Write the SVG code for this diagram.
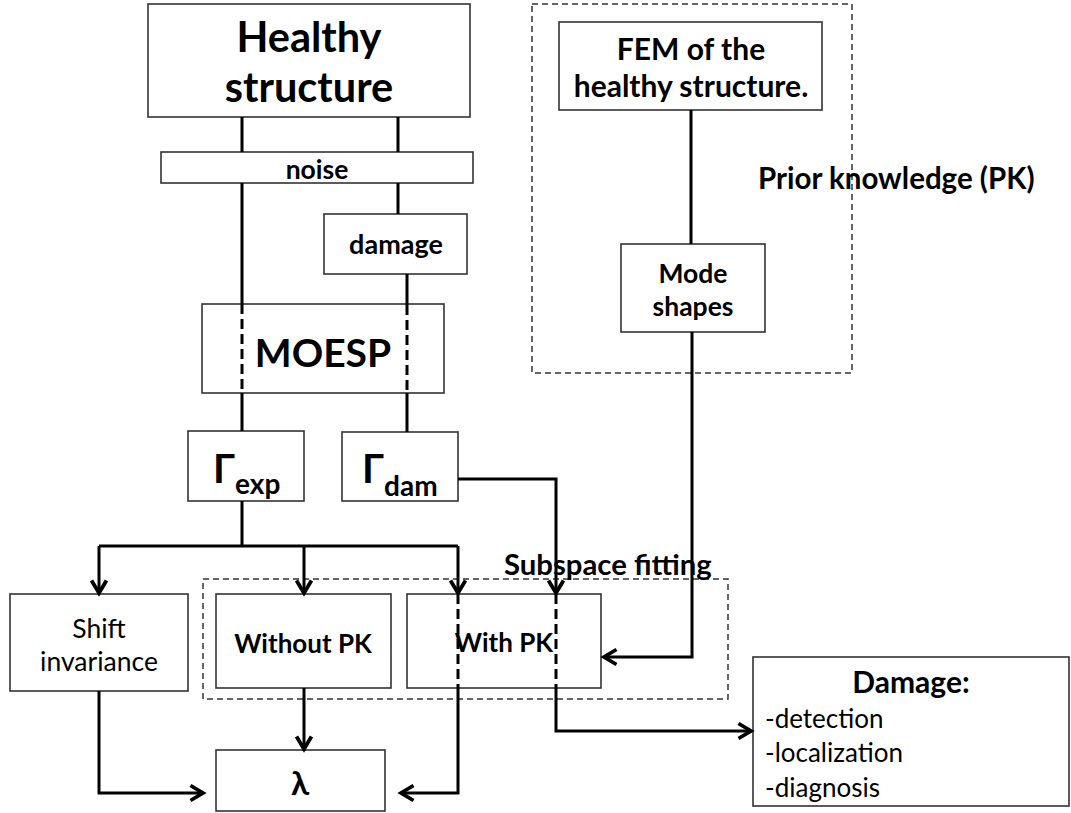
<svg xmlns="http://www.w3.org/2000/svg" width="1071" height="813" viewBox="0 0 1071 813">
<defs>
<marker id="arr" markerUnits="userSpaceOnUse" markerWidth="20" markerHeight="20" viewBox="-12 -8 14 16" refX="0" refY="0" orient="auto">
<path d="M-10,-6 L0,0 L-10,6" fill="none" stroke="#000" stroke-width="3"/>
</marker>
</defs>
<style>
.box{fill:#fff;stroke:#333;stroke-width:1.6}
.grp{fill:none;stroke:#333;stroke-width:1.5;stroke-dasharray:6 4}
.c{fill:none;stroke:#000;stroke-width:3}
.d{fill:none;stroke:#000;stroke-width:3;stroke-dasharray:10 5}
.a{marker-end:url(#arr)}
text{font-family:Lato,"Open Sans","Liberation Sans",sans-serif;fill:#000}
.b{font-weight:bold}
.m{text-anchor:middle}
</style>
<rect width="1071" height="813" fill="#fff"/>

<g id="group-pk">
<rect class="grp" x="532" y="4" width="320" height="369"/>
<text class="b" x="758" y="189" font-size="29.5">Prior knowledge (PK)</text>
</g>
<g id="group-subspace">
<rect class="grp" x="203" y="579" width="525" height="120"/>
<text class="b" x="504" y="575" font-size="29.3">Subspace fitting</text>
</g>

<g id="healthy">
<rect class="box" x="148" y="4" width="322" height="113"/>
<text class="b m" x="309" y="52" font-size="41.5">Healthy</text>
<text class="b m" x="309" y="102" font-size="41.5">structure</text>
</g>
<g id="noise">
<rect class="box" x="161" y="152" width="312" height="31"/>
<text class="b m" x="317" y="179" font-size="26.5">noise</text>
</g>
<g id="damage">
<rect class="box" x="324" y="214" width="143" height="60"/>
<text class="b m" x="396" y="254" font-size="27">damage</text>
</g>
<g id="moesp">
<rect class="box" x="202" y="304" width="242" height="89"/>
<text class="b m" x="323" y="367" font-size="39">MOESP</text>
</g>
<g id="gamma-exp">
<rect class="box" x="188" y="431" width="116" height="70"/>
<text class="b" x="213" y="483" font-size="40">Γ<tspan font-size="28" dy="11">exp</tspan></text>
</g>
<g id="gamma-dam">
<rect class="box" x="342" y="432" width="116" height="69"/>
<text class="b" x="362" y="483" font-size="40">Γ<tspan font-size="28" dy="13">dam</tspan></text>
</g>
<g id="fem">
<rect class="box" x="559" y="22" width="263" height="88"/>
<text class="b m" x="691" y="60" font-size="30">FEM of the</text>
<text class="b m" x="691" y="97" font-size="30">healthy structure.</text>
</g>
<g id="mode-shapes">
<rect class="box" x="621" y="244" width="144" height="88"/>
<text class="b m" x="693" y="283" font-size="26.5">Mode</text>
<text class="b m" x="693" y="316" font-size="26.5">shapes</text>
</g>
<g id="shift">
<rect class="box" x="10" y="594" width="178" height="97"/>
<text class="m" x="99" y="638" font-size="26.5">Shift</text>
<text class="m" x="99" y="671" font-size="26.5">invariance</text>
</g>
<g id="without-pk">
<rect class="box" x="216" y="594" width="175" height="94"/>
<text class="b m" x="303" y="653" font-size="26">Without PK</text>
</g>
<g id="with-pk">
<rect class="box" x="407" y="594" width="194" height="94"/>
<text class="b m" x="504" y="652" font-size="26">With PK</text>
</g>
<g id="lambda">
<rect class="box" x="216" y="750" width="169" height="61"/>
<text class="b m" x="300" y="795" font-size="33">λ</text>
</g>
<g id="damage-out">
<rect class="box" x="753" y="657" width="316" height="149"/>
<text class="b m" x="911" y="693" font-size="30">Damage:</text>
<text x="765" y="728" font-size="26">-detection</text>
<text x="765" y="762" font-size="26">-localization</text>
<text x="765" y="797" font-size="26">-diagnosis</text>
</g>

<g id="connectors">
<path class="c" d="M242,117 V152 M398,117 V152"/>
<path class="c" d="M242,183 V304 M242,393 V431"/>
<path class="d" d="M242,304 V393"/>
<path class="c" d="M398,183 V214"/>
<path class="c" d="M407,274 V305 M407,393 V432"/>
<path class="d" d="M407,305 V393"/>
<path class="c" d="M242,501 V546 M99,546 H458"/>
<path class="c a" d="M99,546 V593"/>
<path class="c a" d="M304,546 V593"/>
<path class="c a" d="M458,546 V593"/>
<path class="d" d="M458,594 V688"/>
<path class="c a" d="M458,688 V793 H401"/>
<path class="c a" d="M458,479 H556 V593"/>
<path class="d" d="M556,594 V688"/>
<path class="c a" d="M556,688 V731 H751"/>
<path class="c" d="M691,110 V244"/>
<path class="c a" d="M692,332 V657 H604"/>
<path class="c a" d="M304,688 V749"/>
<path class="c a" d="M99,691 V793 H203"/>
</g>
</svg>
